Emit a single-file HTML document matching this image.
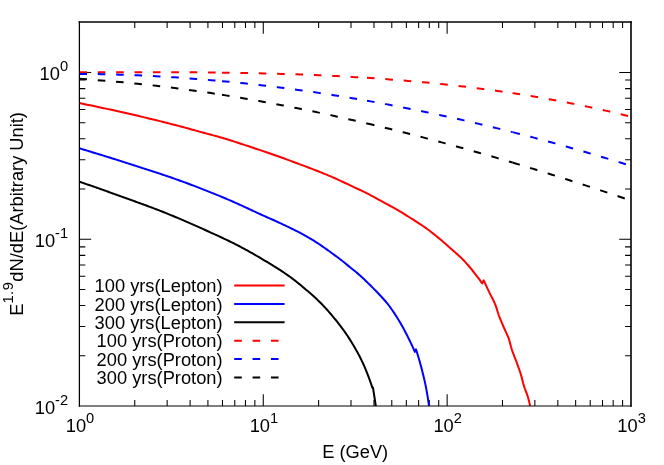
<!DOCTYPE html>
<html><head><meta charset="utf-8"><title>plot</title>
<style>
html,body{margin:0;padding:0;background:#fff;}
svg{display:block;font-family:"Liberation Sans",sans-serif;font-size:18.3px;fill:#000;}
</style></head>
<body>
<svg width="664" height="465" viewBox="0 0 664 465">
<rect x="0" y="0" width="664" height="465" fill="#fff"/>
<defs><clipPath id="c"><rect x="79.4" y="22.0" width="551.6" height="384.0"/></clipPath></defs>
<path d="M134.75,406.00v-5.9M134.75,22.00v5.9M167.13,406.00v-5.9M167.13,22.00v5.9M190.10,406.00v-5.9M190.10,22.00v5.9M207.92,406.00v-5.9M207.92,22.00v5.9M222.48,406.00v-5.9M222.48,22.00v5.9M234.79,406.00v-5.9M234.79,22.00v5.9M245.45,406.00v-5.9M245.45,22.00v5.9M254.85,406.00v-5.9M254.85,22.00v5.9M263.27,406.00v-11.8M263.27,22.00v11.8M318.62,406.00v-5.9M318.62,22.00v5.9M350.99,406.00v-5.9M350.99,22.00v5.9M373.97,406.00v-5.9M373.97,22.00v5.9M391.78,406.00v-5.9M391.78,22.00v5.9M406.34,406.00v-5.9M406.34,22.00v5.9M418.65,406.00v-5.9M418.65,22.00v5.9M429.31,406.00v-5.9M429.31,22.00v5.9M438.72,406.00v-5.9M438.72,22.00v5.9M447.13,406.00v-11.8M447.13,22.00v11.8M502.48,406.00v-5.9M502.48,22.00v5.9M534.86,406.00v-5.9M534.86,22.00v5.9M557.83,406.00v-5.9M557.83,22.00v5.9M575.65,406.00v-5.9M575.65,22.00v5.9M590.21,406.00v-5.9M590.21,22.00v5.9M602.52,406.00v-5.9M602.52,22.00v5.9M613.18,406.00v-5.9M613.18,22.00v5.9M622.59,406.00v-5.9M622.59,22.00v5.9M79.40,355.80h5.9M631.00,355.80h-5.9M79.40,326.43h5.9M631.00,326.43h-5.9M79.40,305.59h5.9M631.00,305.59h-5.9M79.40,289.43h5.9M631.00,289.43h-5.9M79.40,276.22h5.9M631.00,276.22h-5.9M79.40,265.06h5.9M631.00,265.06h-5.9M79.40,255.39h5.9M631.00,255.39h-5.9M79.40,246.86h5.9M631.00,246.86h-5.9M79.40,239.23h11.8M631.00,239.23h-11.8M79.40,189.02h5.9M631.00,189.02h-5.9M79.40,159.65h5.9M631.00,159.65h-5.9M79.40,138.82h5.9M631.00,138.82h-5.9M79.40,122.65h5.9M631.00,122.65h-5.9M79.40,109.45h5.9M631.00,109.45h-5.9M79.40,98.28h5.9M631.00,98.28h-5.9M79.40,88.61h5.9M631.00,88.61h-5.9M79.40,80.08h5.9M631.00,80.08h-5.9M79.40,72.45h11.8M631.00,72.45h-11.8" stroke="#000" stroke-width="1.05" fill="none"/>
<g clip-path="url(#c)" fill="none" stroke-width="2" stroke-linejoin="round">
<path d="M79.30,103.10 L81.52,103.54 L83.74,103.99 L85.95,104.44 L88.17,104.90 L90.38,105.35 L92.60,105.81 L94.81,106.28 L97.03,106.74 L99.24,107.21 L101.45,107.68 L103.66,108.15 L105.88,108.63 L108.09,109.11 L110.30,109.59 L112.51,110.07 L114.71,110.56 L116.92,111.05 L119.13,111.54 L121.34,112.03 L123.54,112.53 L125.75,113.03 L127.95,113.53 L130.16,114.03 L132.36,114.54 L134.56,115.05 L136.77,115.56 L138.97,116.08 L141.17,116.60 L143.37,117.12 L145.57,117.64 L147.77,118.17 L149.97,118.70 L152.17,119.24 L154.36,119.77 L156.56,120.31 L158.76,120.85 L160.95,121.40 L163.15,121.95 L165.34,122.50 L167.53,123.05 L169.73,123.61 L171.92,124.17 L174.11,124.73 L176.30,125.30 L178.49,125.87 L180.67,126.44 L182.86,127.02 L185.04,127.62 L187.22,128.22 L189.40,128.82 L191.58,129.43 L193.76,130.04 L195.94,130.65 L198.11,131.25 L200.30,131.85 L202.48,132.45 L204.66,133.04 L206.85,133.62 L209.03,134.20 L211.22,134.78 L213.40,135.37 L215.59,135.96 L217.77,136.56 L219.95,137.17 L222.12,137.79 L224.29,138.43 L226.45,139.08 L228.61,139.75 L230.77,140.43 L232.92,141.12 L235.07,141.83 L237.22,142.53 L239.37,143.24 L241.52,143.94 L243.67,144.65 L245.82,145.36 L247.97,146.07 L250.11,146.78 L252.26,147.50 L254.40,148.21 L256.55,148.93 L258.69,149.66 L260.83,150.38 L262.98,151.10 L265.12,151.82 L267.26,152.55 L269.40,153.27 L271.54,154.00 L273.68,154.74 L275.82,155.48 L277.95,156.23 L280.08,156.99 L282.21,157.76 L284.33,158.53 L286.46,159.32 L288.58,160.11 L290.69,160.90 L292.81,161.69 L294.93,162.49 L297.05,163.28 L299.17,164.07 L301.29,164.86 L303.41,165.64 L305.53,166.43 L307.65,167.23 L309.76,168.03 L311.87,168.83 L313.98,169.65 L316.09,170.47 L318.20,171.30 L320.30,172.13 L322.40,172.97 L324.50,173.82 L326.59,174.68 L328.68,175.55 L330.75,176.44 L332.83,177.34 L334.89,178.26 L336.96,179.18 L339.01,180.12 L341.07,181.07 L343.12,182.02 L345.17,182.98 L347.22,183.95 L349.26,184.91 L351.31,185.88 L353.35,186.85 L355.39,187.82 L357.44,188.78 L359.49,189.75 L361.53,190.72 L363.57,191.70 L365.60,192.69 L367.63,193.70 L369.64,194.72 L371.64,195.77 L373.63,196.85 L375.61,197.94 L377.60,199.03 L379.58,200.12 L381.57,201.19 L383.56,202.27 L385.55,203.34 L387.54,204.42 L389.53,205.50 L391.51,206.59 L393.49,207.68 L395.46,208.79 L397.42,209.91 L399.37,211.06 L401.31,212.22 L403.24,213.39 L405.16,214.59 L407.08,215.79 L408.99,217.00 L410.90,218.22 L412.81,219.44 L414.71,220.65 L416.62,221.87 L418.54,223.07 L420.45,224.29 L422.34,225.53 L424.20,226.80 L426.04,228.11 L427.86,229.45 L429.67,230.82 L431.46,232.20 L433.24,233.60 L435.01,235.01 L436.77,236.44 L438.51,237.87 L440.25,239.32 L441.97,240.79 L443.68,242.27 L445.38,243.77 L447.07,245.27 L448.76,246.77 L450.45,248.28 L452.15,249.77 L453.86,251.27 L455.56,252.76 L457.26,254.27 L458.94,255.78 L460.59,257.32 L462.22,258.89 L463.80,260.49 L465.35,262.13 L466.86,263.80 L468.34,265.50 L469.81,267.23 L471.25,268.98 L472.67,270.75 L474.08,272.53 L475.48,274.31 L476.87,276.09 L478.23,277.89 L479.57,279.71 L480.89,281.55 L482.20,283.40 L483.70,280.40 L484.86,282.91 L486.02,285.41 L487.19,287.91 L488.37,290.40 L489.55,292.90 L490.78,295.37 L492.06,297.83 L493.33,300.29 L494.52,302.78 L495.58,305.31 L496.46,307.91 L497.25,310.56 L498.06,313.21 L498.98,315.81 L499.98,318.37 L501.04,320.93 L502.12,323.47 L503.22,326.00 L504.31,328.54 L505.47,331.05 L506.65,333.56 L507.78,336.08 L508.78,338.64 L509.58,341.26 L510.27,343.94 L510.96,346.62 L511.74,349.26 L512.64,351.87 L513.60,354.45 L514.60,357.03 L515.61,359.61 L516.58,362.19 L517.52,364.79 L518.47,367.38 L519.40,369.98 L520.29,372.59 L521.12,375.22 L521.85,377.88 L522.50,380.57 L523.16,383.25 L523.91,385.90 L524.81,388.51 L525.79,391.10 L526.77,393.68 L527.68,396.29 L528.45,398.93 L529.14,401.59 L529.75,404.29 L530.30,407.00" stroke="#f00"/>
<path d="M79.30,148.30 L81.25,148.88 L83.20,149.47 L85.15,150.06 L87.10,150.65 L89.05,151.24 L91.00,151.83 L92.95,152.42 L94.90,153.02 L96.85,153.61 L98.80,154.21 L100.74,154.81 L102.69,155.41 L104.64,156.02 L106.58,156.62 L108.53,157.23 L110.47,157.83 L112.42,158.44 L114.36,159.05 L116.30,159.66 L118.25,160.28 L120.19,160.89 L122.13,161.51 L124.07,162.12 L126.01,162.74 L127.95,163.36 L129.89,163.99 L131.83,164.61 L133.77,165.23 L135.71,165.85 L137.65,166.47 L139.59,167.09 L141.53,167.72 L143.47,168.34 L145.41,168.97 L147.35,169.59 L149.29,170.22 L151.23,170.85 L153.17,171.48 L155.10,172.12 L157.04,172.76 L158.97,173.40 L160.91,174.04 L162.84,174.69 L164.77,175.34 L166.70,176.00 L168.63,176.66 L170.55,177.32 L172.47,177.99 L174.40,178.66 L176.31,179.34 L178.23,180.02 L180.15,180.71 L182.06,181.41 L183.97,182.11 L185.88,182.81 L187.79,183.52 L189.70,184.23 L191.61,184.94 L193.52,185.66 L195.42,186.39 L197.33,187.12 L199.23,187.85 L201.13,188.59 L203.03,189.33 L204.93,190.07 L206.82,190.82 L208.72,191.58 L210.61,192.33 L212.50,193.09 L214.39,193.86 L216.28,194.63 L218.16,195.40 L220.05,196.18 L221.93,196.96 L223.81,197.74 L225.68,198.53 L227.56,199.32 L229.43,200.11 L231.30,200.92 L233.17,201.73 L235.03,202.56 L236.89,203.39 L238.74,204.24 L240.59,205.08 L242.44,205.94 L244.29,206.79 L246.14,207.65 L247.99,208.52 L249.83,209.38 L251.68,210.24 L253.53,211.10 L255.37,211.96 L257.22,212.82 L259.08,213.67 L260.93,214.52 L262.79,215.35 L264.65,216.18 L266.51,217.01 L268.38,217.83 L270.24,218.64 L272.11,219.47 L273.97,220.29 L275.83,221.13 L277.68,221.98 L279.52,222.85 L281.36,223.71 L283.21,224.58 L285.05,225.46 L286.90,226.33 L288.74,227.22 L290.58,228.10 L292.42,229.00 L294.25,229.90 L296.07,230.81 L297.89,231.73 L299.71,232.67 L301.51,233.61 L303.30,234.57 L305.08,235.55 L306.86,236.54 L308.61,237.55 L310.36,238.58 L312.09,239.63 L313.82,240.70 L315.54,241.80 L317.24,242.91 L318.95,244.04 L320.64,245.18 L322.32,246.33 L324.00,247.50 L325.67,248.67 L327.34,249.86 L329.00,251.05 L330.65,252.24 L332.30,253.44 L333.94,254.64 L335.58,255.84 L337.21,257.06 L338.84,258.29 L340.45,259.54 L342.06,260.79 L343.66,262.05 L345.25,263.32 L346.84,264.60 L348.43,265.88 L350.01,267.16 L351.59,268.45 L353.17,269.73 L354.75,271.02 L356.33,272.32 L357.88,273.63 L359.42,274.97 L360.93,276.33 L362.43,277.71 L363.93,279.10 L365.41,280.50 L366.87,281.91 L368.33,283.34 L369.78,284.77 L371.22,286.21 L372.65,287.66 L374.08,289.11 L375.52,290.56 L376.96,292.02 L378.38,293.49 L379.80,294.97 L381.20,296.46 L382.58,297.96 L383.94,299.48 L385.27,301.01 L386.58,302.57 L387.84,304.14 L389.08,305.74 L390.28,307.37 L391.47,309.02 L392.63,310.70 L393.78,312.39 L394.90,314.10 L396.00,315.83 L397.09,317.56 L398.16,319.30 L399.21,321.05 L400.26,322.79 L401.28,324.55 L402.28,326.32 L403.27,328.10 L404.24,329.90 L405.19,331.70 L406.13,333.51 L407.06,335.33 L407.97,337.15 L408.88,338.97 L409.78,340.80 L410.66,342.63 L411.53,344.47 L412.39,346.32 L413.24,348.17 L414.08,350.03 L414.90,351.90 L416.00,349.30 L416.37,350.45 L416.74,351.61 L417.10,352.76 L417.45,353.92 L417.81,355.08 L418.16,356.24 L418.50,357.40 L418.84,358.56 L419.18,359.72 L419.51,360.88 L419.84,362.05 L420.16,363.21 L420.49,364.38 L420.80,365.54 L421.12,366.71 L421.43,367.88 L421.73,369.05 L422.03,370.22 L422.33,371.39 L422.63,372.56 L422.92,373.73 L423.21,374.91 L423.49,376.08 L423.77,377.26 L424.05,378.43 L424.33,379.61 L424.60,380.79 L424.86,381.97 L425.12,383.15 L425.38,384.34 L425.62,385.52 L425.86,386.70 L426.09,387.89 L426.31,389.08 L426.53,390.27 L426.74,391.46 L426.95,392.65 L427.16,393.84 L427.36,395.03 L427.56,396.22 L427.75,397.41 L427.94,398.61 L428.12,399.80 L428.30,401.00 L428.47,402.20 L428.64,403.40 L428.80,404.60 L428.95,405.80 L429.10,407.00" stroke="#00f"/>
<path d="M79.30,181.60 L81.07,182.22 L82.84,182.83 L84.61,183.45 L86.37,184.07 L88.14,184.69 L89.91,185.31 L91.67,185.93 L93.44,186.55 L95.21,187.17 L96.97,187.80 L98.74,188.42 L100.50,189.05 L102.27,189.67 L104.03,190.30 L105.80,190.93 L107.56,191.56 L109.33,192.19 L111.09,192.82 L112.85,193.45 L114.62,194.08 L116.38,194.72 L118.14,195.35 L119.90,195.98 L121.67,196.62 L123.43,197.25 L125.19,197.88 L126.95,198.52 L128.72,199.15 L130.48,199.78 L132.24,200.41 L134.01,201.05 L135.77,201.69 L137.53,202.32 L139.29,202.96 L141.05,203.60 L142.81,204.25 L144.57,204.89 L146.32,205.54 L148.08,206.20 L149.83,206.85 L151.59,207.51 L153.34,208.17 L155.09,208.84 L156.83,209.51 L158.58,210.19 L160.32,210.87 L162.07,211.55 L163.81,212.25 L165.54,212.94 L167.28,213.64 L169.02,214.35 L170.75,215.06 L172.48,215.77 L174.21,216.49 L175.94,217.21 L177.67,217.94 L179.39,218.67 L181.12,219.40 L182.84,220.13 L184.56,220.87 L186.28,221.61 L188.00,222.36 L189.71,223.11 L191.43,223.86 L193.14,224.62 L194.85,225.38 L196.57,226.14 L198.28,226.90 L199.99,227.67 L201.69,228.44 L203.40,229.21 L205.11,229.98 L206.81,230.76 L208.51,231.53 L210.22,232.31 L211.92,233.09 L213.63,233.87 L215.33,234.64 L217.04,235.42 L218.74,236.21 L220.44,236.99 L222.14,237.78 L223.84,238.58 L225.53,239.37 L227.23,240.18 L228.91,240.99 L230.60,241.80 L232.28,242.63 L233.96,243.46 L235.63,244.30 L237.29,245.15 L238.95,246.01 L240.61,246.88 L242.27,247.76 L243.92,248.65 L245.56,249.54 L247.20,250.45 L248.84,251.36 L250.48,252.28 L252.11,253.20 L253.73,254.13 L255.35,255.07 L256.97,256.01 L258.59,256.96 L260.20,257.91 L261.81,258.86 L263.42,259.81 L265.04,260.77 L266.65,261.73 L268.26,262.70 L269.86,263.67 L271.47,264.64 L273.07,265.63 L274.66,266.61 L276.25,267.61 L277.84,268.61 L279.42,269.62 L280.99,270.64 L282.55,271.67 L284.11,272.71 L285.66,273.76 L287.20,274.82 L288.73,275.89 L290.24,276.98 L291.75,278.08 L293.24,279.20 L294.72,280.35 L296.20,281.51 L297.66,282.68 L299.11,283.87 L300.56,285.06 L302.00,286.27 L303.43,287.47 L304.86,288.68 L306.29,289.90 L307.72,291.11 L309.14,292.33 L310.56,293.56 L311.97,294.80 L313.37,296.05 L314.76,297.30 L316.14,298.57 L317.50,299.86 L318.85,301.16 L320.17,302.47 L321.48,303.80 L322.78,305.15 L324.06,306.51 L325.34,307.88 L326.60,309.27 L327.86,310.66 L329.10,312.07 L330.33,313.49 L331.55,314.92 L332.76,316.35 L333.95,317.80 L335.14,319.25 L336.31,320.71 L337.47,322.17 L338.62,323.64 L339.77,325.12 L340.90,326.62 L342.03,328.12 L343.14,329.63 L344.25,331.15 L345.33,332.69 L346.40,334.23 L347.46,335.78 L348.49,337.33 L349.51,338.90 L350.50,340.48 L351.48,342.07 L352.46,343.66 L353.42,345.27 L354.38,346.89 L355.32,348.51 L356.25,350.15 L357.16,351.79 L358.06,353.44 L358.94,355.10 L359.81,356.77 L360.65,358.44 L361.48,360.12 L362.28,361.81 L363.06,363.50 L363.82,365.20 L364.56,366.91 L365.30,368.62 L366.02,370.35 L366.73,372.08 L367.42,373.82 L368.10,375.56 L368.76,377.32 L369.41,379.08 L370.04,380.85 L370.66,382.63 L371.26,384.41 L371.84,386.20 L372.40,388.00 L373.00,387.60 L373.06,388.00 L373.12,388.39 L373.18,388.79 L373.24,389.18 L373.30,389.58 L373.36,389.98 L373.42,390.37 L373.48,390.77 L373.54,391.16 L373.60,391.56 L373.66,391.96 L373.72,392.35 L373.78,392.75 L373.84,393.14 L373.90,393.54 L373.96,393.93 L374.02,394.33 L374.08,394.73 L374.14,395.12 L374.20,395.52 L374.26,395.91 L374.32,396.31 L374.38,396.71 L374.44,397.10 L374.51,397.50 L374.57,397.89 L374.63,398.29 L374.69,398.69 L374.75,399.08 L374.81,399.48 L374.87,399.87 L374.93,400.27 L374.99,400.67 L375.05,401.06 L375.11,401.46 L375.17,401.85 L375.23,402.25 L375.29,402.64 L375.35,403.04 L375.41,403.44 L375.47,403.83 L375.53,404.23 L375.59,404.62 L375.65,405.02 L375.71,405.42 L375.77,405.81 L375.83,406.21 L375.89,406.60 L375.95,407.00" stroke="#000"/>
<path d="M79.40,72.29 L83.06,72.28 L86.71,72.27 L90.37,72.26 L94.03,72.25 L97.68,72.24 L101.34,72.23 L104.99,72.22 L108.65,72.22 L112.31,72.21 L115.96,72.20 L119.62,72.20 L123.28,72.19 L126.93,72.19 L130.59,72.18 L134.25,72.18 L137.90,72.18 L141.56,72.18 L145.22,72.18 L148.87,72.18 L152.53,72.19 L156.18,72.19 L159.84,72.20 L163.50,72.21 L167.15,72.22 L170.81,72.23 L174.47,72.24 L178.12,72.26 L181.78,72.28 L185.44,72.30 L189.09,72.32 L192.75,72.35 L196.41,72.37 L200.06,72.40 L203.72,72.43 L207.37,72.47 L211.03,72.51 L214.69,72.55 L218.34,72.59 L222.00,72.64" stroke="#f00" stroke-dasharray="7.6 10.78"/>
<path d="M222.00,72.64 L225.72,72.69 L229.44,72.74 L233.15,72.80 L236.87,72.86 L240.59,72.92 L244.31,72.99 L248.03,73.06 L251.74,73.14 L255.46,73.22 L259.18,73.30 L262.90,73.39 L266.62,73.48 L270.33,73.57 L274.05,73.67 L277.77,73.78 L281.49,73.89 L285.21,74.00 L288.92,74.12 L292.64,74.24 L296.36,74.37 L300.08,74.50 L303.79,74.64 L307.51,74.78 L311.23,74.93 L314.95,75.08 L318.67,75.24 L322.38,75.40 L326.10,75.57 L329.82,75.75 L333.54,75.93 L337.26,76.12 L340.97,76.31 L344.69,76.51 L348.41,76.71 L352.13,76.92 L355.85,77.14 L359.56,77.36 L363.28,77.59 L367.00,77.83" stroke="#f00" stroke-dasharray="7.6 10.78"/>
<path d="M367.00,77.83 L370.73,78.07 L374.46,78.32 L378.19,78.58 L381.92,78.84 L385.65,79.11 L389.38,79.39 L393.12,79.68 L396.85,79.97 L400.58,80.27 L404.31,80.58 L408.04,80.89 L411.77,81.22 L415.50,81.55 L419.23,81.88 L422.96,82.23 L426.69,82.58 L430.42,82.95 L434.15,83.32 L437.88,83.69 L441.62,84.08 L445.35,84.48 L449.08,84.88 L452.81,85.29 L456.54,85.71 L460.27,86.14 L464.00,86.58 L467.73,87.03 L471.46,87.48 L475.19,87.95 L478.92,88.42 L482.65,88.91 L486.38,89.40 L490.12,89.90 L493.85,90.41 L497.58,90.94 L501.31,91.47 L505.04,92.01 L508.77,92.56 L512.50,93.12" stroke="#f00" stroke-dasharray="7.6 10.78"/>
<path d="M512.50,93.12 L515.54,93.59 L518.58,94.06 L521.62,94.54 L524.65,95.02 L527.69,95.51 L530.73,96.01 L533.77,96.52 L536.81,97.03 L539.85,97.55 L542.88,98.08 L545.92,98.61 L548.96,99.15 L552.00,99.70 L555.04,100.26 L558.08,100.82 L561.12,101.39 L564.15,101.97 L567.19,102.56 L570.23,103.15 L573.27,103.75 L576.31,104.36 L579.35,104.97 L582.38,105.60 L585.42,106.23 L588.46,106.87 L591.50,107.52 L594.54,108.17 L597.58,108.83 L600.62,109.51 L603.65,110.18 L606.69,110.87 L609.73,111.57 L612.77,112.27 L615.81,112.98 L618.85,113.70 L621.88,114.43 L624.92,115.17 L627.96,115.92 L631.00,116.67" stroke="#f00" stroke-dasharray="7.6 10.78"/>
<path d="M79.40,73.88 L83.06,73.91 L86.71,73.95 L90.37,74.00 L94.03,74.06 L97.68,74.12 L101.34,74.20 L104.99,74.28 L108.65,74.37 L112.31,74.46 L115.96,74.57 L119.62,74.68 L123.28,74.81 L126.93,74.94 L130.59,75.07 L134.25,75.22 L137.90,75.37 L141.56,75.54 L145.22,75.71 L148.87,75.89 L152.53,76.07 L156.18,76.27 L159.84,76.47 L163.50,76.68 L167.15,76.90 L170.81,77.13 L174.47,77.36 L178.12,77.60 L181.78,77.85 L185.44,78.11 L189.09,78.38 L192.75,78.65 L196.41,78.93 L200.06,79.23 L203.72,79.52 L207.37,79.83 L211.03,80.14 L214.69,80.47 L218.34,80.79 L222.00,81.13" stroke="#00f" stroke-dasharray="7.6 10.78"/>
<path d="M222.00,81.13 L225.72,81.48 L229.44,81.84 L233.15,82.21 L236.87,82.59 L240.59,82.97 L244.31,83.36 L248.03,83.76 L251.74,84.17 L255.46,84.58 L259.18,85.01 L262.90,85.44 L266.62,85.88 L270.33,86.33 L274.05,86.78 L277.77,87.25 L281.49,87.72 L285.21,88.20 L288.92,88.68 L292.64,89.18 L296.36,89.68 L300.08,90.19 L303.79,90.71 L307.51,91.24 L311.23,91.77 L314.95,92.32 L318.67,92.87 L322.38,93.42 L326.10,93.99 L329.82,94.56 L333.54,95.14 L337.26,95.73 L340.97,96.33 L344.69,96.94 L348.41,97.55 L352.13,98.17 L355.85,98.80 L359.56,99.43 L363.28,100.07 L367.00,100.73" stroke="#00f" stroke-dasharray="7.6 10.78"/>
<path d="M367.00,100.73 L370.73,101.39 L374.46,102.05 L378.19,102.73 L381.92,103.42 L385.65,104.11 L389.38,104.81 L393.12,105.51 L396.85,106.23 L400.58,106.95 L404.31,107.68 L408.04,108.42 L411.77,109.16 L415.50,109.92 L419.23,110.68 L422.96,111.44 L426.69,112.22 L430.42,113.00 L434.15,113.79 L437.88,114.59 L441.62,115.40 L445.35,116.21 L449.08,117.03 L452.81,117.86 L456.54,118.69 L460.27,119.53 L464.00,120.39 L467.73,121.24 L471.46,122.11 L475.19,122.98 L478.92,123.86 L482.65,124.75 L486.38,125.64 L490.12,126.54 L493.85,127.45 L497.58,128.37 L501.31,129.29 L505.04,130.23 L508.77,131.16 L512.50,132.11" stroke="#00f" stroke-dasharray="7.6 10.78"/>
<path d="M512.50,132.11 L515.54,132.89 L518.58,133.67 L521.62,134.45 L524.65,135.24 L527.69,136.04 L530.73,136.84 L533.77,137.64 L536.81,138.45 L539.85,139.27 L542.88,140.09 L545.92,140.91 L548.96,141.74 L552.00,142.57 L555.04,143.41 L558.08,144.25 L561.12,145.10 L564.15,145.95 L567.19,146.81 L570.23,147.67 L573.27,148.54 L576.31,149.41 L579.35,150.28 L582.38,151.16 L585.42,152.05 L588.46,152.94 L591.50,153.83 L594.54,154.73 L597.58,155.64 L600.62,156.55 L603.65,157.46 L606.69,158.38 L609.73,159.30 L612.77,160.23 L615.81,161.16 L618.85,162.10 L621.88,163.04 L624.92,163.98 L627.96,164.93 L631.00,165.89" stroke="#00f" stroke-dasharray="7.6 10.78"/>
<path d="M79.40,78.84 L83.06,79.08 L86.71,79.33 L90.37,79.59 L94.03,79.86 L97.68,80.13 L101.34,80.42 L104.99,80.71 L108.65,81.02 L112.31,81.33 L115.96,81.66 L119.62,81.99 L123.28,82.33 L126.93,82.68 L130.59,83.04 L134.25,83.40 L137.90,83.78 L141.56,84.16 L145.22,84.56 L148.87,84.96 L152.53,85.37 L156.18,85.79 L159.84,86.22 L163.50,86.66 L167.15,87.10 L170.81,87.56 L174.47,88.02 L178.12,88.49 L181.78,88.97 L185.44,89.46 L189.09,89.95 L192.75,90.46 L196.41,90.97 L200.06,91.49 L203.72,92.02 L207.37,92.56 L211.03,93.10 L214.69,93.66 L218.34,94.22 L222.00,94.79" stroke="#000" stroke-dasharray="7.6 10.78"/>
<path d="M222.00,94.79 L225.72,95.38 L229.44,95.97 L233.15,96.58 L236.87,97.19 L240.59,97.81 L244.31,98.44 L248.03,99.07 L251.74,99.72 L255.46,100.37 L259.18,101.03 L262.90,101.70 L266.62,102.37 L270.33,103.06 L274.05,103.75 L277.77,104.45 L281.49,105.15 L285.21,105.87 L288.92,106.59 L292.64,107.32 L296.36,108.06 L300.08,108.80 L303.79,109.55 L307.51,110.31 L311.23,111.08 L314.95,111.85 L318.67,112.63 L322.38,113.42 L326.10,114.22 L329.82,115.02 L333.54,115.83 L337.26,116.65 L340.97,117.48 L344.69,118.31 L348.41,119.15 L352.13,119.99 L355.85,120.84 L359.56,121.70 L363.28,122.57 L367.00,123.44" stroke="#000" stroke-dasharray="7.6 10.78"/>
<path d="M367.00,123.44 L370.73,124.33 L374.46,125.22 L378.19,126.11 L381.92,127.02 L385.65,127.93 L389.38,128.84 L393.12,129.77 L396.85,130.70 L400.58,131.63 L404.31,132.57 L408.04,133.52 L411.77,134.48 L415.50,135.44 L419.23,136.41 L422.96,137.38 L426.69,138.37 L430.42,139.35 L434.15,140.35 L437.88,141.35 L441.62,142.35 L445.35,143.36 L449.08,144.38 L452.81,145.40 L456.54,146.43 L460.27,147.47 L464.00,148.51 L467.73,149.56 L471.46,150.61 L475.19,151.67 L478.92,152.74 L482.65,153.81 L486.38,154.88 L490.12,155.96 L493.85,157.05 L497.58,158.14 L501.31,159.24 L505.04,160.35 L508.77,161.46 L512.50,162.57" stroke="#000" stroke-dasharray="7.6 10.78"/>
<path d="M512.50,162.57 L515.54,163.48 L518.58,164.40 L521.62,165.32 L524.65,166.24 L527.69,167.16 L530.73,168.09 L533.77,169.03 L536.81,169.96 L539.85,170.90 L542.88,171.84 L545.92,172.79 L548.96,173.74 L552.00,174.69 L555.04,175.65 L558.08,176.61 L561.12,177.57 L564.15,178.54 L567.19,179.51 L570.23,180.48 L573.27,181.45 L576.31,182.43 L579.35,183.41 L582.38,184.40 L585.42,185.39 L588.46,186.38 L591.50,187.37 L594.54,188.37 L597.58,189.37 L600.62,190.37 L603.65,191.38 L606.69,192.39 L609.73,193.40 L612.77,194.41 L615.81,195.43 L618.85,196.45 L621.88,197.47 L624.92,198.50 L627.96,199.53 L631.00,200.56" stroke="#000" stroke-dasharray="7.6 10.78"/>
</g>
<g stroke="#000" fill="none" stroke-linecap="square">
<path d="M79.4,22.0V406.0" stroke-width="1.25"/>
<path d="M631.0,22.0V406.0" stroke-width="1.6"/>
<path d="M79.4,22.0H631.0" stroke-width="1.6"/>
<path d="M79.4,406.0H631.0" stroke-width="1.15"/>
</g>
<path d="M234.2,285.50H284.6" stroke="#f00" stroke-width="2" fill="none"/>
<path d="M234.2,303.90H284.6" stroke="#00f" stroke-width="2" fill="none"/>
<path d="M234.2,322.30H284.6" stroke="#000" stroke-width="2" fill="none"/>
<path d="M234.2,340.70H284.6" stroke="#f00" stroke-width="2" fill="none" stroke-dasharray="7.6 10.78"/>
<path d="M234.2,359.10H284.6" stroke="#00f" stroke-width="2" fill="none" stroke-dasharray="7.6 10.78"/>
<path d="M234.2,377.50H284.6" stroke="#000" stroke-width="2" fill="none" stroke-dasharray="7.6 10.78"/>
<g style="filter:grayscale(1)">
<text x="222.6" y="292.1" text-anchor="end">100 yrs(Lepton)</text>
<text x="222.6" y="310.5" text-anchor="end">200 yrs(Lepton)</text>
<text x="222.6" y="328.9" text-anchor="end">300 yrs(Lepton)</text>
<text x="222.6" y="347.3" text-anchor="end">100 yrs(Proton)</text>
<text x="222.6" y="365.7" text-anchor="end">200 yrs(Proton)</text>
<text x="222.6" y="384.1" text-anchor="end">300 yrs(Proton)</text>
<text x="68.1" y="80.2" text-anchor="end">10<tspan dy="-9" font-size="14.65">0</tspan></text>
<text x="68.1" y="246.9" text-anchor="end">10<tspan dy="-9" font-size="14.65">-1</tspan></text>
<text x="68.1" y="413.7" text-anchor="end">10<tspan dy="-9" font-size="14.65">-2</tspan></text>
<text x="80.0" y="432.4" text-anchor="middle">10<tspan dy="-9" font-size="14.65">0</tspan></text>
<text x="263.9" y="432.4" text-anchor="middle">10<tspan dy="-9" font-size="14.65">1</tspan></text>
<text x="447.7" y="432.4" text-anchor="middle">10<tspan dy="-9" font-size="14.65">2</tspan></text>
<text x="631.6" y="432.4" text-anchor="middle">10<tspan dy="-9" font-size="14.65">3</tspan></text>
<text x="355.2" y="457.9" text-anchor="middle">E (GeV)</text>
<text transform="translate(22.6,213.9) rotate(-90)" text-anchor="middle">E<tspan dy="-9.9" font-size="14.65" letter-spacing="0.5">1.9</tspan><tspan dy="9.9">dN/dE(Arbitrary Unit)</tspan></text>
</g>
</svg>
</body></html>
